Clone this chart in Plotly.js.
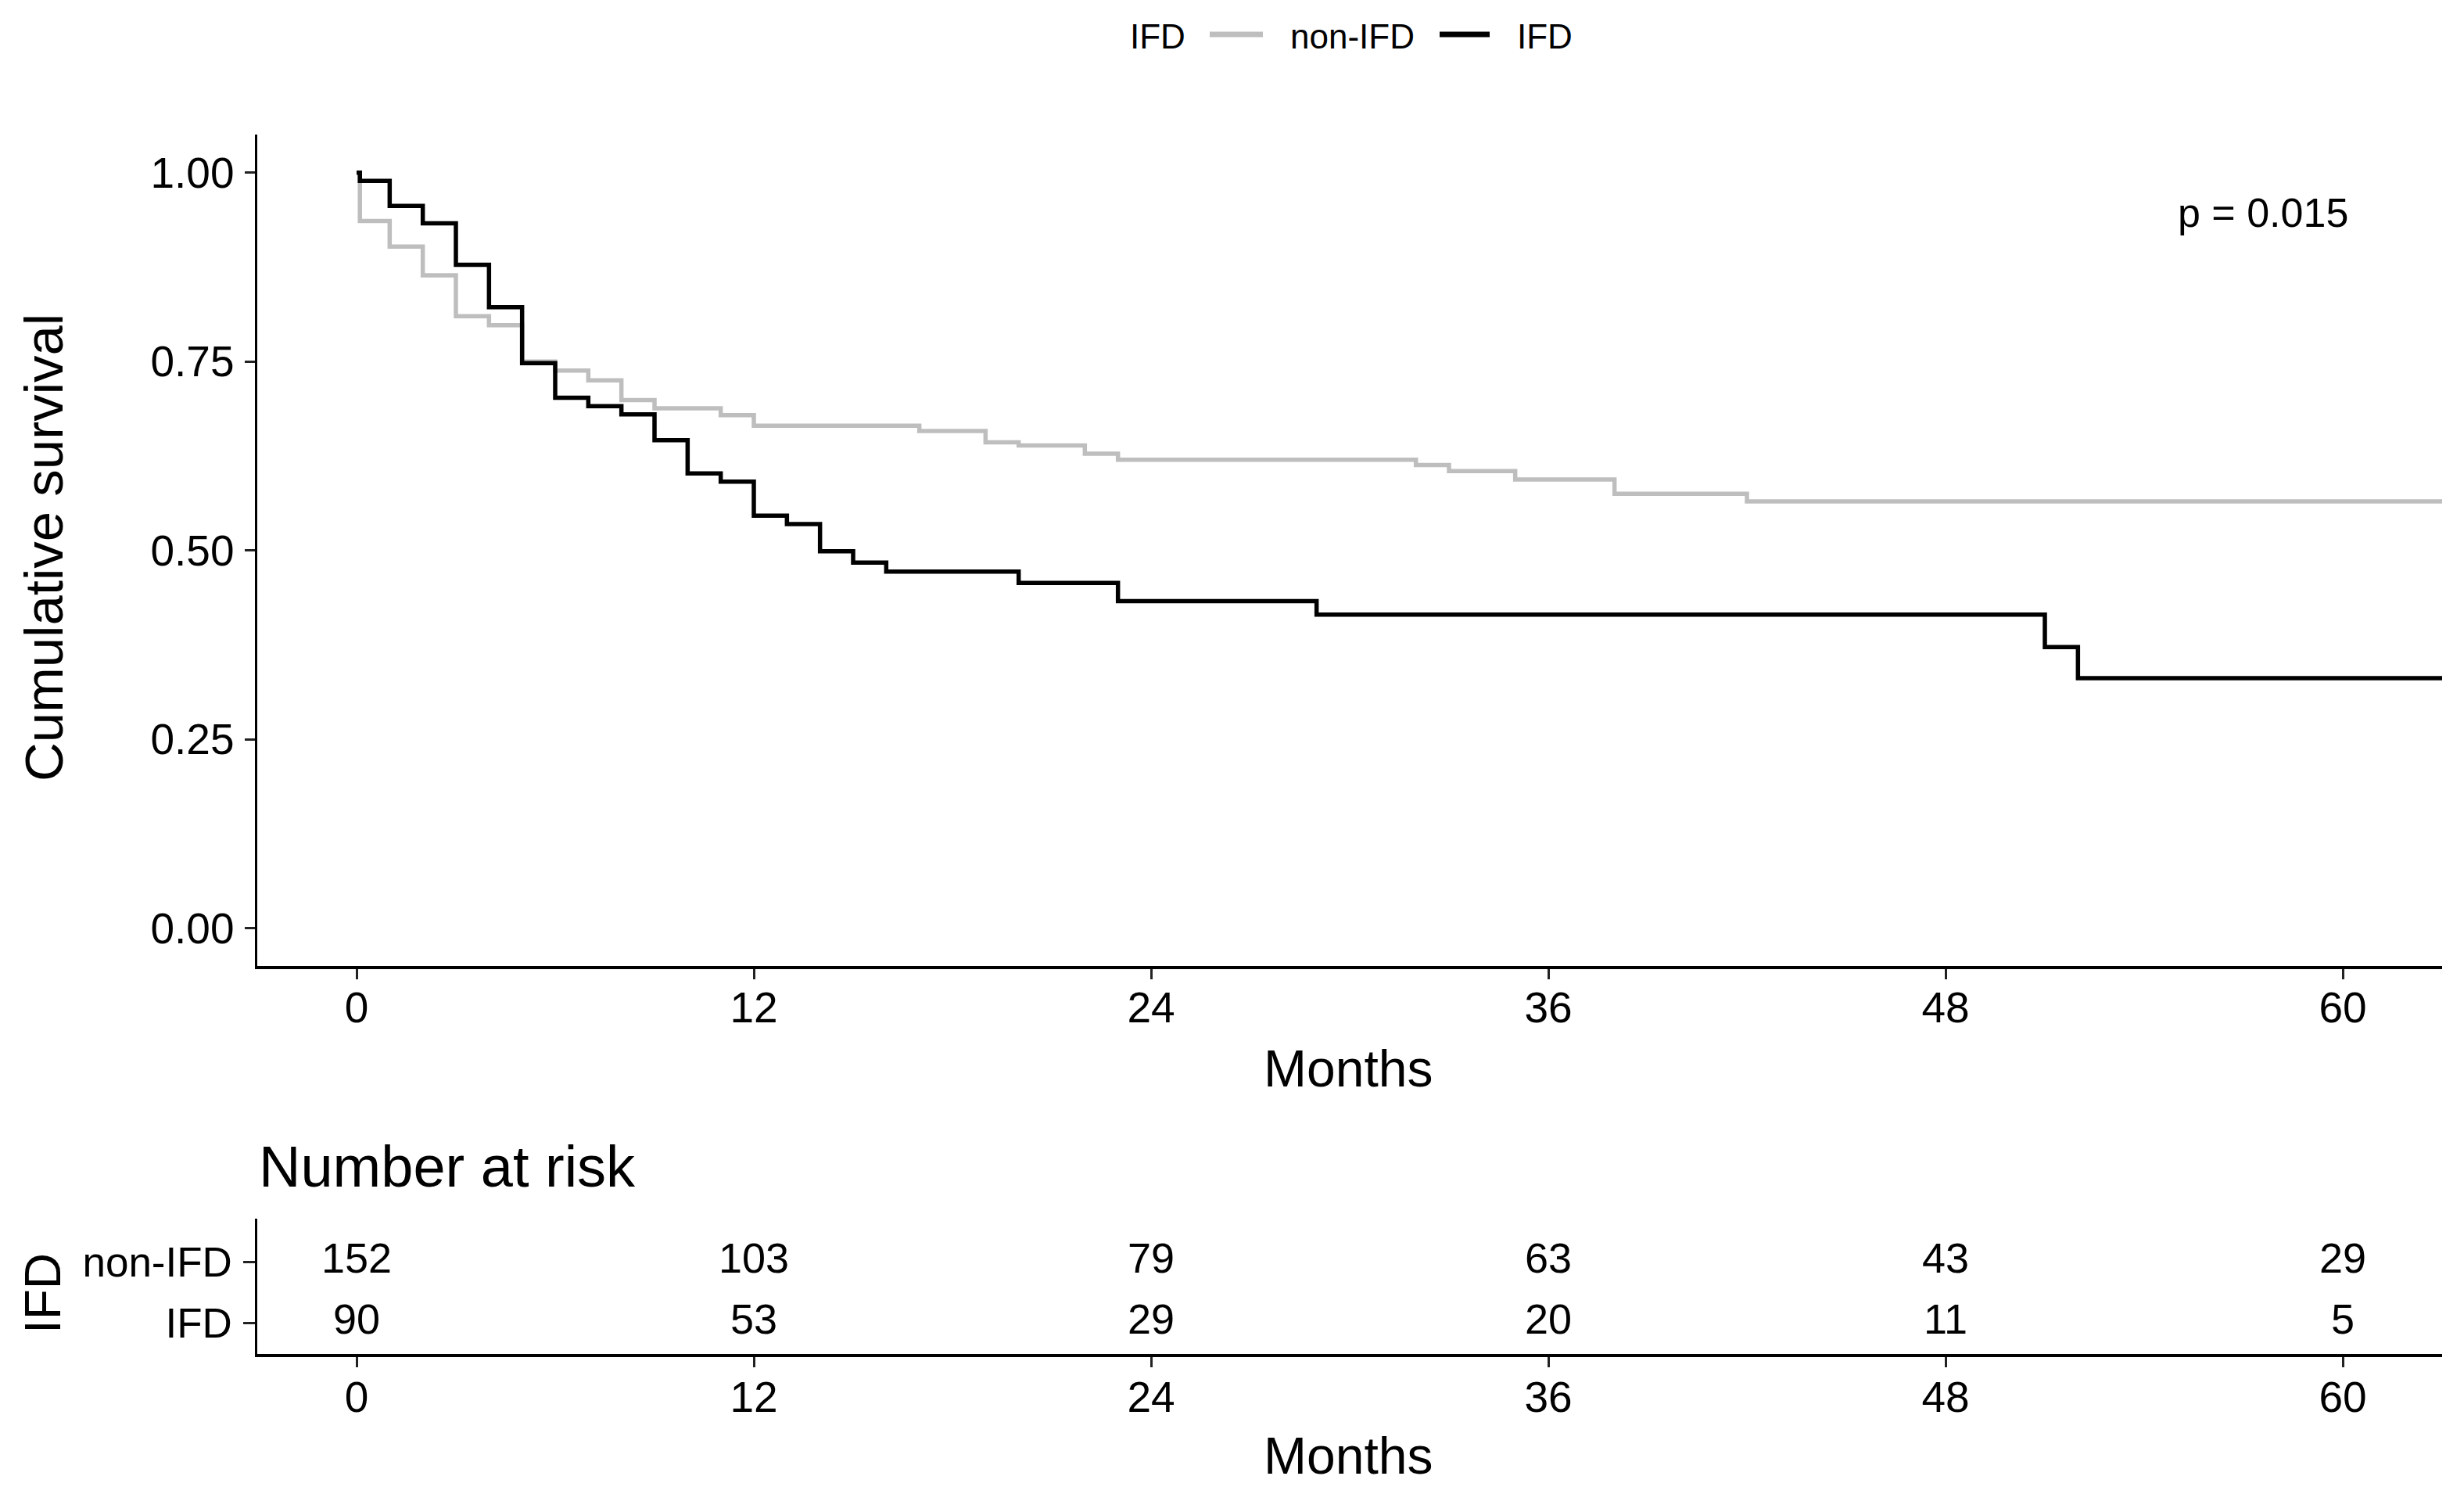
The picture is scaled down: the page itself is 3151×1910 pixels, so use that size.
<!DOCTYPE html>
<html>
<head>
<meta charset="utf-8">
<script src="https://cdn.plot.ly/plotly-3.0.1.min.js"></script>
<style>html,body{margin:0;padding:0;background:#fff;}#chart{width:3151px;height:1910px;}</style>
</head>
<body>
<div id="chart"></div>
<script>
// ---- data ----
const nonIfdTime = [0, 0.1, 1, 2, 3, 4, 5, 6, 7, 8, 9, 11, 12, 17, 19, 20, 22, 23, 32, 33, 35, 38, 42, 63];
const nonIfdSurv = [1.0, 0.936, 0.902, 0.864, 0.810, 0.798, 0.750, 0.738, 0.725, 0.699, 0.688, 0.679, 0.665, 0.658, 0.643, 0.639, 0.628, 0.620, 0.613, 0.605, 0.594, 0.575, 0.565, 0.565];
const ifdTime = [0, 0.1, 1, 2, 3, 4, 5, 6, 7, 8, 9, 10, 11, 12, 13, 14, 15, 16, 20, 23, 29, 51, 52, 63];
const ifdSurv = [1.0, 0.989, 0.956, 0.933, 0.878, 0.822, 0.748, 0.702, 0.691, 0.680, 0.646, 0.602, 0.591, 0.546, 0.535, 0.499, 0.484, 0.472, 0.457, 0.433, 0.415, 0.372, 0.331, 0.331];

const riskTimes = [0, 12, 24, 36, 48, 60];
const riskNonIfd = [152, 103, 79, 63, 43, 29];
const riskIfd = [90, 53, 29, 20, 11, 5];
const groups = ['IFD', 'non-IFD'];
const xTicks = [0, 12, 24, 36, 48, 60];
const yTicks = [0, 0.25, 0.5, 0.75, 1.0];
const yTickText = ['0.00', '0.25', '0.50', '0.75', '1.00'];
const pText = 'p = 0.015';
const legendTitle = 'IFD';
const legendNames = ['non-IFD', 'IFD'];

// ---- layout ----
const W = 3151, H = 1910;
const px = v => v / W;
const py = v => 1 - v / H;
const FONT = 'Liberation Sans, Arial, sans-serif';
const GREY = '#BEBEBE';
const BLACK = '#000000';
const LW = 5.5;

const traces = [
  {x: nonIfdTime, y: nonIfdSurv, type: 'scatter', mode: 'lines', name: legendNames[0],
   line: {color: GREY, width: LW, shape: 'hv'}, xaxis: 'x', yaxis: 'y', showlegend: false},
  {x: ifdTime, y: ifdSurv, type: 'scatter', mode: 'lines', name: legendNames[1],
   line: {color: BLACK, width: LW, shape: 'hv'}, xaxis: 'x', yaxis: 'y', showlegend: false},
  {x: riskTimes, y: riskTimes.map(() => 'non-IFD'), text: riskNonIfd.map(String), type: 'scatter', mode: 'text',
   textfont: {family: FONT, size: 54, color: '#000'}, showlegend: false, xaxis: 'x2', yaxis: 'y2', hoverinfo: 'skip'},
  {x: riskTimes, y: riskTimes.map(() => 'IFD'), text: riskIfd.map(String), type: 'scatter', mode: 'text',
   textfont: {family: FONT, size: 54, color: '#000'}, showlegend: false, xaxis: 'x2', yaxis: 'y2', hoverinfo: 'skip'}
];

const axisCommon = {
  showline: true, linecolor: '#000', linewidth: 3.5, mirror: false,
  showgrid: false, zeroline: false,
  ticks: 'outside', ticklen: 13, tickwidth: 3, tickcolor: '#222',
  tickfont: {family: FONT, size: 55, color: '#000'}
};

// manual legend (top centre)
const legY = 44;
const legendShapes = [
  {type: 'line', xref: 'paper', yref: 'paper', x0: px(1547), x1: px(1615), y0: py(legY), y1: py(legY), line: {color: GREY, width: 7}},
  {type: 'line', xref: 'paper', yref: 'paper', x0: px(1841), x1: px(1905), y0: py(legY), y1: py(legY), line: {color: BLACK, width: 7}}
];
const legendAnn = [
  {text: legendTitle, x: px(1443), y: py(legY + 2), xanchor: 'left'},
  {text: legendNames[0], x: px(1648), y: py(legY + 2), xanchor: 'left'},
  {text: legendNames[1], x: px(1938), y: py(legY + 2), xanchor: 'left'}
].map(a => Object.assign(a, {xref: 'paper', yref: 'paper', showarrow: false, yanchor: 'middle',
  font: {family: FONT, size: 44, color: '#000'}}));

const layout = {
  width: W, height: H,
  margin: {l: 0, r: 0, t: 0, b: 0},
  paper_bgcolor: '#fff', plot_bgcolor: '#fff',
  font: {family: FONT, color: '#000'},
  showlegend: false,
  xaxis: Object.assign({}, axisCommon, {
    domain: [px(329), px(3123)], range: [-3, 63], tickvals: xTicks, ticktext: xTicks.map(String),
    anchor: 'y', ticklabelstandoff: -11
  }),
  yaxis: Object.assign({}, axisCommon, {
    domain: [py(1235), py(172.4)], range: [-0.05, 1.05], tickvals: yTicks, ticktext: yTickText,
    anchor: 'x', ticklabelstandoff: 2
  }),
  xaxis2: Object.assign({}, axisCommon, {
    domain: [px(329), px(3123)], range: [-3, 63], tickvals: xTicks, ticktext: xTicks.map(String),
    anchor: 'y2', ticklabelstandoff: -9
  }),
  yaxis2: Object.assign({}, axisCommon, {
    domain: [py(1731), py(1558)], type: 'category', categoryorder: 'array', categoryarray: groups,
    range: [-0.5, 1.7], anchor: 'x2', ticklen: 15, ticklabelstandoff: 3,
    tickfont: {family: FONT, size: 53, color: '#000'}
  }),
  shapes: legendShapes,
  annotations: [
    {text: pText, x: 57.6, y: 0.947, xref: 'x', yref: 'y', showarrow: false,
     font: {family: FONT, size: 52, color: '#000'}, xanchor: 'center', yanchor: 'middle'},
    {text: 'Months', x: px(1724), y: py(1366), xref: 'paper', yref: 'paper', showarrow: false,
     font: {family: FONT, size: 66, color: '#000'}, xanchor: 'center', yanchor: 'middle'},
    {text: 'Cumulative survival', x: px(56), y: py(700), xref: 'paper', yref: 'paper', showarrow: false,
     textangle: -90, font: {family: FONT, size: 69, color: '#000'}, xanchor: 'center', yanchor: 'middle'},
    {text: 'Number at risk', x: px(329), y: py(1491), xref: 'paper', yref: 'paper', showarrow: false,
     font: {family: FONT, size: 74, color: '#000'}, xanchor: 'left', yanchor: 'middle'},
    {text: 'IFD', x: px(55), y: py(1654), xref: 'paper', yref: 'paper', showarrow: false,
     textangle: -90, font: {family: FONT, size: 64, color: '#000'}, xanchor: 'center', yanchor: 'middle'},
    {text: 'Months', x: px(1724), y: py(1861), xref: 'paper', yref: 'paper', showarrow: false,
     font: {family: FONT, size: 66, color: '#000'}, xanchor: 'center', yanchor: 'middle'}
  ].concat(legendAnn)
};

Plotly.newPlot('chart', traces, layout, {staticPlot: true, displayModeBar: false});
</script>
</body>
</html>
